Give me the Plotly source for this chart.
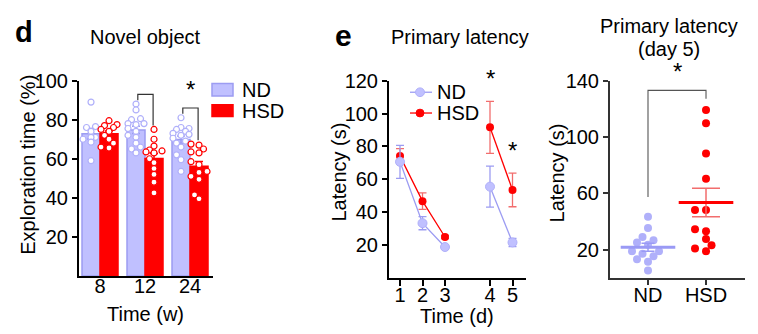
import math
import plotly.graph_objects as go

# ---------------- data ----------------
# d: novel-object exploration time (%) per animal, by age (weeks)
week_labels = ["8", "12", "24"]
nd_explore = [
    [89, 76.5, 76, 74, 71, 71, 70, 68.5, 59],
    [88, 85, 80.5, 80, 78, 78, 77.5, 75.5, 74, 72, 71, 68, 66, 65, 63],
    [81, 76, 75.5, 75, 74, 73, 72.5, 72, 70.5, 69, 68, 66, 62, 59.5, 53.5],
]
hsd_explore = [
    [79.5, 77.5, 77, 76, 75, 74, 72, 70, 68, 66, 65.5],
    [75, 70, 66.5, 64.5, 64, 63.5, 63, 60, 58, 55, 52, 48, 42.5],
    [67.5, 67, 65, 63.5, 63, 58.5, 57, 53.5, 53, 51, 49.5, 41.5, 39.5],
]
explore_sig = [False, False, True]

# e: primary latency (s) over training days, mean and s.e.m.
day_labels = ["1", "2", "3", "4", "5"]
nd_latency_mean = [70.6, 33.3, 18.8, 55.5, 21.6]
nd_latency_sem = [10.0, 4.0, 1.0, 12.5, 2.5]
hsd_latency_mean = [74.1, 46.7, 24.9, 91.6, 53.5]
hsd_latency_sem = [4.5, 5.0, 1.0, 15.8, 10.2]
latency_sig = [False, False, False, True, True]

# f: primary latency on day 5, per animal
groups_f = ["ND", "HSD"]
nd_day5 = [43.4, 35.4, 29, 26.7, 25.2, 23.5, 19, 19, 17.1, 15.3, 13.3, 11.4, 5.3]
hsd_day5 = [119.1, 109.7, 88.2, 70.4, 48.2, 48.2, 34.5, 33.1, 27.7, 23.1, 20.8, 19]

# ---------------- style ----------------
W, H = 758, 334
FONT = "Liberation Sans, Arial, Helvetica, sans-serif"
ND_FILL = "#c0c0ff"
ND_EDGE = "#9c9cf2"
ND_DOT = "#b0b0fa"
HSD = "#ff0000"
HSD_LIGHT = "#f26d6d"
FS = 20


def mean(v):
    return sum(v) / len(v)


def sem(v):
    m = mean(v)
    return math.sqrt(sum((x - m) ** 2 for x in v) / (len(v) - 1)) / math.sqrt(len(v))


def swarm(vals, ypx, diam, steps):
    """Horizontal pixel offsets so that dots do not pile on top of each other."""
    order = sorted(range(len(vals)), key=lambda i: vals[i])
    placed, offs = [], [0.0] * len(vals)
    for i in order:
        y = vals[i] * ypx
        best, best_d = steps[0], -1.0
        for c in steps:
            d = min((math.hypot(c - px, y - py) for px, py in placed), default=1e9)
            if d >= diam:
                best = c
                break
            if d > best_d:
                best, best_d = c, d
        offs[i] = best
        placed.append((best, y))
    return offs


def px_x(p):
    return p / W


def px_y(p):
    return 1 - p / H


# plot areas (pixels)
D_DOM_X, D_DOM_Y, D_RANGE_Y = (79, 213), (274, 72), (0, 100)
E_DOM_X, E_DOM_Y, E_RANGE_Y = (389, 526), (276, 72), (0, 120)
F_DOM_X, F_DOM_Y, F_RANGE_Y = (610, 745), (276, 72), (0, 140)


def val_to_paper(v, dom_y, rng):
    b, t = px_y(dom_y[0]), px_y(dom_y[1])
    return b + (v - rng[0]) / (rng[1] - rng[0]) * (t - b)


STAR_FONT = dict(family=FONT, size=24, color="black")

fig = go.Figure()

# ---------------- panel d: bars + dots ----------------
D_XPX, D_YPX = 45.0, 2.0125   # pixels per data unit
half = 0.2
for g in range(len(week_labels)):
    for vals, sign, fill, edge in [
        (nd_explore[g], -1, ND_FILL, ND_EDGE),
        (hsd_explore[g], 1, HSD, HSD),
    ]:
        xc = g + sign * half
        fig.add_trace(go.Bar(
            x=[xc], y=[mean(vals)], width=0.4, xaxis="x", yaxis="y",
            marker=dict(color=fill, line=dict(color=edge, width=1.5)),
            error_y=dict(type="data", array=[sem(vals)], color=edge, thickness=1.5, width=4),
            showlegend=False, hoverinfo="skip",
        ))
        offs = swarm(vals, D_YPX, 5.5, [0, -4.5, 4.5, -8, 8])
        fig.add_trace(go.Scatter(
            x=[xc + o / D_XPX for o in offs], y=vals, mode="markers", xaxis="x", yaxis="y",
            marker=dict(size=6, color="white", line=dict(color=ND_DOT if sign < 0 else HSD, width=1.2)),
            showlegend=False, hoverinfo="skip", cliponaxis=False,
        ))

shapes = []
annotations = []

# significance brackets for d
for g, sig in enumerate(explore_sig):
    if g == 0:
        continue
    top = max(nd_explore[g]) + 5
    x0, x1 = g - 0.16, g + 0.18
    shapes.append(dict(type="path", xref="x", yref="y",
                       path=f"M{x0},{top - 3} L{x0},{top} L{x1},{top} L{x1},{max(hsd_explore[g]) + 2}",
                       line=dict(color="#333333", width=1.2)))
    if sig:
        annotations.append(dict(x=g, y=val_to_paper(top + 9.3, D_DOM_Y, D_RANGE_Y), xref="x", yref="paper",
                                text="*", showarrow=False, font=STAR_FONT, yanchor="middle"))

# ---------------- panel e: latency over days ----------------
day_pos = [1, 2, 3, 5, 6]


def with_gap(seq):
    return list(seq[:3]) + [None] + list(seq[3:])


pos_gap = with_gap(day_pos)
fig.add_trace(go.Scatter(
    x=pos_gap, y=with_gap(hsd_latency_mean), mode="lines+markers", xaxis="x2", yaxis="y2",
    line=dict(color=HSD, width=1.3), marker=dict(size=8, color=HSD),
    error_y=dict(type="data", array=with_gap(hsd_latency_sem), color=HSD_LIGHT, thickness=1.3, width=4),
    connectgaps=False, showlegend=False, hoverinfo="skip", cliponaxis=False,
))
fig.add_trace(go.Scatter(
    x=pos_gap, y=with_gap(nd_latency_mean), mode="lines+markers", xaxis="x2", yaxis="y2",
    line=dict(color=ND_EDGE, width=1.3), marker=dict(size=9, color=ND_FILL, line=dict(color=ND_DOT, width=1)),
    error_y=dict(type="data", array=with_gap(nd_latency_sem), color=ND_EDGE, thickness=1.3, width=4),
    connectgaps=False, showlegend=False, hoverinfo="skip", cliponaxis=False,
))
for p, m, s, sig in zip(day_pos, hsd_latency_mean, hsd_latency_sem, latency_sig):
    if sig:
        annotations.append(dict(x=p, y=val_to_paper(m + s + 14, E_DOM_Y, E_RANGE_Y), xref="x2", yref="paper",
                                text="*", showarrow=False, font=STAR_FONT, yanchor="middle"))

# ---------------- panel f: day-5 scatter ----------------
F_XPX, F_YPX = 58.0, 1.457
for gi, (vals, col, cap, mcol, ecol) in enumerate([(nd_day5, ND_DOT, 6.5, "#9a9af5", "#9a9af5"),
                                                    (hsd_day5, HSD, 14, HSD, HSD_LIGHT)]):
    offs = swarm(vals, F_YPX, 7.0, [0, -5.5, 5.5, -11, 11, -16, 16])
    fig.add_trace(go.Scatter(
        x=[gi + o / F_XPX for o in offs], y=vals, mode="markers", xaxis="x3", yaxis="y3",
        marker=dict(size=8, color=col), showlegend=False, hoverinfo="skip", cliponaxis=False,
    ))
    fig.add_trace(go.Scatter(
        x=[gi], y=[mean(vals)], mode="markers", xaxis="x3", yaxis="y3",
        marker=dict(symbol="line-ew-open", size=39, color=mcol, line=dict(color=mcol, width=3)),
        error_y=dict(type="data", array=[sem(vals)], color=ecol, thickness=1.5, width=cap),
        showlegend=False, hoverinfo="skip", cliponaxis=False,
    ))

f_top = max(hsd_day5) + 14
shapes.append(dict(type="path", xref="x3", yref="y3",
                   path=f"M0,{max(nd_day5) + 14} L0,{f_top} L1,{f_top} L1,{max(hsd_day5) + 8}",
                   line=dict(color="#555555", width=1.1)))
annotations.append(dict(x=0.5, y=val_to_paper(f_top + 13.5, F_DOM_Y, F_RANGE_Y), xref="x3", yref="paper",
                        text="*", showarrow=False, font=STAR_FONT, yanchor="middle"))

# ---------------- legends ----------------
shapes += [
    dict(type="rect", xref="paper", yref="paper", x0=px_x(212), x1=px_x(233), y0=px_y(88), y1=px_y(75),
         fillcolor=ND_FILL, line=dict(color=ND_EDGE, width=1.5)),
    dict(type="rect", xref="paper", yref="paper", x0=px_x(212), x1=px_x(233), y0=px_y(109), y1=px_y(97),
         fillcolor=HSD, line=dict(color=HSD, width=1.5)),
    dict(type="line", xref="paper", yref="paper", x0=px_x(410), x1=px_x(432), y0=px_y(84), y1=px_y(84),
         line=dict(color=ND_EDGE, width=1.3)),
    dict(type="circle", xref="paper", yref="paper", x0=px_x(415.5), x1=px_x(424.5), y0=px_y(88.5), y1=px_y(79.5),
         fillcolor=ND_FILL, line=dict(color=ND_DOT, width=1)),
    dict(type="line", xref="paper", yref="paper", x0=px_x(410), x1=px_x(432), y0=px_y(105.5), y1=px_y(105.5),
         line=dict(color=HSD, width=1.3)),
    dict(type="circle", xref="paper", yref="paper", x0=px_x(416), x1=px_x(424), y0=px_y(109.5), y1=px_y(101.5),
         fillcolor=HSD, line=dict(color=HSD, width=1)),
]


def label(text, x, y, size=FS, bold=False, angle=0, xanchor="center"):
    return dict(x=px_x(x), y=px_y(y), xref="paper", yref="paper", text=f"<b>{text}</b>" if bold else text,
                showarrow=False, textangle=angle, xanchor=xanchor, yanchor="middle",
                font=dict(family=FONT, size=size, color="black"))


annotations += [
    label("d", 24, 22, size=29, bold=True),
    label("Novel object", 145, 27),
    label("Exploration time (%)", 28, 159, angle=-90),
    label("Time (w)", 145, 313),
    label("ND", 240, 81.5, xanchor="left"),
    label("HSD", 240, 103, xanchor="left"),
    label("e", 343, 25, size=30, bold=True),
    label("Primary latency", 460, 27),
    label("Latency (s)", 338, 167, angle=-90),
    label("Time (d)", 457, 315),
    label("ND", 435, 84, xanchor="left"),
    label("HSD", 435, 105.5, xanchor="left"),
    label("Primary latency", 669, 15),
    label("(day 5)", 669, 39),
    label("Latency (s)", 557, 168, angle=-90),
]

axis_common = dict(showline=True, linecolor="black", linewidth=2, showgrid=False, zeroline=False,
                   tickfont=dict(family=FONT, size=FS, color="black"), ticks="outside",
                   tickcolor="black", tickwidth=2, ticklen=5)

fig.update_layout(
    width=W, height=H, margin=dict(l=0, r=0, t=0, b=0),
    paper_bgcolor="white", plot_bgcolor="white", showlegend=False, barmode="overlay",
    xaxis=dict(axis_common, domain=[px_x(D_DOM_X[0]), px_x(D_DOM_X[1])], range=[-0.467, 2.511], anchor="y",
               tickvals=[0, 1, 2], ticktext=week_labels, ticklen=0, ticklabelstandoff=-9),
    yaxis=dict(axis_common, domain=[px_y(D_DOM_Y[0]), px_y(D_DOM_Y[1])], range=list(D_RANGE_Y), anchor="x",
               tickvals=[20, 40, 60, 80, 100]),
    xaxis2=dict(axis_common, domain=[px_x(E_DOM_X[0]), px_x(E_DOM_X[1])], range=[0.511, 6.6], anchor="y2",
                tickvals=day_pos, ticktext=day_labels, ticklen=6, ticklabelstandoff=-8),
    yaxis2=dict(axis_common, domain=[px_y(E_DOM_Y[0]), px_y(E_DOM_Y[1])], range=list(E_RANGE_Y), anchor="x2",
                tickvals=[20, 40, 60, 80, 100, 120]),
    xaxis3=dict(axis_common, domain=[px_x(F_DOM_X[0]), px_x(F_DOM_X[1])], range=[-0.655, 1.672], anchor="y3",
                tickvals=[0, 1], ticktext=groups_f, linecolor="#333333", tickcolor="#333333",
                ticklabelstandoff=-7),
    yaxis3=dict(axis_common, domain=[px_y(F_DOM_Y[0]), px_y(F_DOM_Y[1])], range=list(F_RANGE_Y), anchor="x3",
                tickvals=[20, 60, 100, 140], linecolor="#333333", tickcolor="#333333"),
    shapes=shapes, annotations=annotations,
)

fig.write_html("out.html")
